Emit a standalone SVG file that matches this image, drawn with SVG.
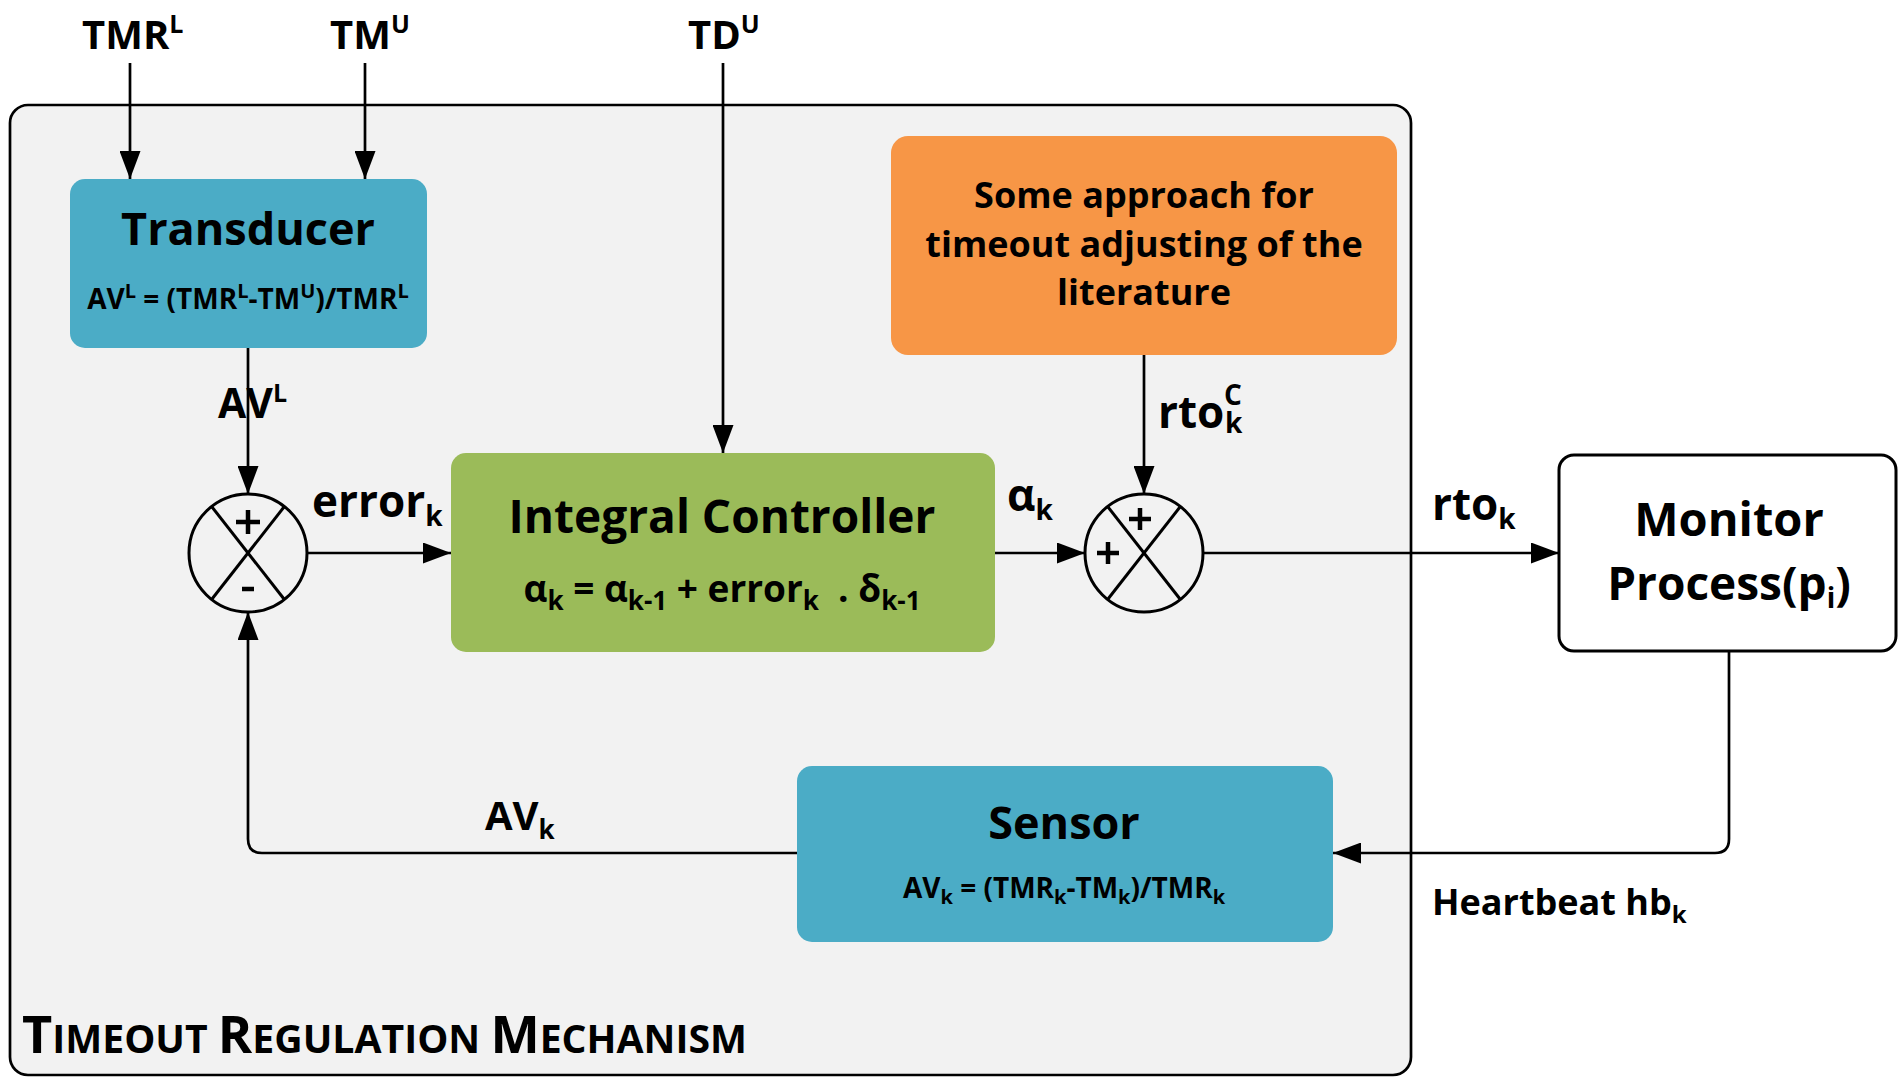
<svg xmlns="http://www.w3.org/2000/svg" width="1898" height="1078" viewBox="0 0 1898 1078">
  <style>
    text { font-family: "Open Sans", "Liberation Sans", sans-serif; font-weight: 700; fill: #000; }
    .title { text-anchor: middle; }
    .note { font-size: 36px; text-anchor: middle; }
    .f { text-anchor: middle; white-space: pre; }
    .wire { fill: none; stroke: #000; stroke-width: 2.7; }
    .ring { fill: none; stroke: #000; stroke-width: 3; }
    .sign { fill: none; stroke: #000; stroke-width: 4.5; }
  </style>
  <defs>
    <marker id="ah" markerWidth="28" markerHeight="21" refX="28" refY="10.5" orient="auto" markerUnits="userSpaceOnUse">
      <path d="M0,0 L28,10.5 L0,21 z" fill="#000"/>
    </marker>
  </defs>

  <rect width="1898" height="1078" fill="#fff"/>

  <!-- regulation mechanism frame -->
  <g id="frame">
    <rect x="10" y="105" width="1401" height="970" rx="18" fill="#f2f2f2" stroke="#000" stroke-width="2.7"/>
    <text x="22" y="1053" textLength="725" lengthAdjust="spacingAndGlyphs"><tspan font-size="52">T</tspan><tspan font-size="39">IMEOUT </tspan><tspan font-size="52">R</tspan><tspan font-size="39">EGULATION </tspan><tspan font-size="52">M</tspan><tspan font-size="39">ECHANISM</tspan></text>
  </g>

  <!-- external inputs -->
  <g id="in-tmrl"><text x="82" y="49" font-size="40">TMR<tspan font-size="25" dy="-16">L</tspan></text></g>
  <g id="in-tmu"><text x="330" y="49" font-size="40">TM<tspan font-size="25" dy="-16">U</tspan></text></g>
  <g id="in-tdu"><text x="688" y="49" font-size="40">TD<tspan font-size="25" dy="-16">U</tspan></text></g>

  <!-- transducer -->
  <g id="transducer">
    <rect x="70" y="179" width="357" height="169" rx="15" fill="#4bacc6"/>
    <text class="title" x="248" y="245" font-size="45">Transducer</text>
    <text class="f" x="248" y="309" font-size="28">AV<tspan font-size="20" dy="-11">L</tspan><tspan dy="11"> = (TMR</tspan><tspan font-size="20" dy="-11">L</tspan><tspan dy="11">-TM</tspan><tspan font-size="20" dy="-11">U</tspan><tspan dy="11">)/TMR</tspan><tspan font-size="20" dy="-11">L</tspan></text>
  </g>

  <!-- integral controller -->
  <g id="integral-controller">
    <rect x="451" y="453" width="544" height="199" rx="15" fill="#9bbb59"/>
    <text class="title" x="722" y="533" font-size="46">Integral Controller</text>
    <text class="f" x="722" y="602" font-size="37">α<tspan font-size="26" dy="8">k</tspan><tspan dy="-8"> = α</tspan><tspan font-size="26" dy="8">k-1</tspan><tspan dy="-8"> + error</tspan><tspan font-size="26" dy="8">k</tspan><tspan dy="-8">  . δ</tspan><tspan font-size="26" dy="8">k-1</tspan></text>
  </g>

  <!-- literature approach -->
  <g id="literature">
    <rect x="891" y="136" width="506" height="219" rx="17" fill="#f79646"/>
    <text class="note" x="1144" y="208">Some approach for</text>
    <text class="note" x="1144" y="257">timeout adjusting of the</text>
    <text class="note" x="1144" y="305">literature</text>
  </g>

  <!-- summing junctions -->
  <g id="sum-error">
    <circle cx="248" cy="553" r="59" fill="#f2f2f2" class="ring"/>
    <line class="ring" x1="212" y1="507" x2="284" y2="599"/>
    <line class="ring" x1="284" y1="507" x2="212" y2="599"/>
    <path class="sign" d="M236,522 H260 M248,510 V534"/>
    <path class="sign" d="M242,589 H254"/>
  </g>
  <g id="sum-rto">
    <circle cx="1144" cy="553" r="59" fill="#f2f2f2" class="ring"/>
    <line class="ring" x1="1108" y1="507" x2="1180" y2="599"/>
    <line class="ring" x1="1180" y1="507" x2="1108" y2="599"/>
    <path class="sign" d="M1129,519 H1151 M1140,508 V530"/>
    <path class="sign" d="M1097,553 H1119 M1108,542 V564"/>
  </g>

  <!-- monitor process -->
  <g id="monitor">
    <rect x="1559" y="455" width="337" height="196" rx="15" fill="#fff" stroke="#000" stroke-width="3"/>
    <text class="title" x="1729" y="536" font-size="47">Monitor</text>
    <text class="title" x="1729" y="600" font-size="46">Process(p<tspan font-size="28" dy="8">i</tspan><tspan dy="-8">)</tspan></text>
  </g>

  <!-- sensor -->
  <g id="sensor">
    <rect x="797" y="766" width="536" height="176" rx="15" fill="#4bacc6"/>
    <text class="title" x="1064" y="839" font-size="45">Sensor</text>
    <text class="f" x="1064" y="898" font-size="28">AV<tspan font-size="20" dy="6">k</tspan><tspan dy="-6"> = (TMR</tspan><tspan font-size="20" dy="6">k</tspan><tspan dy="-6">-TM</tspan><tspan font-size="20" dy="6">k</tspan><tspan dy="-6">)/TMR</tspan><tspan font-size="20" dy="6">k</tspan></text>
  </g>

  <!-- signal paths -->
  <g id="connectors">
    <line class="wire" x1="130" y1="63" x2="130" y2="179" marker-end="url(#ah)"/>
    <line class="wire" x1="365" y1="63" x2="365" y2="179" marker-end="url(#ah)"/>
    <line class="wire" x1="723" y1="63" x2="723" y2="453" marker-end="url(#ah)"/>
    <line class="wire" x1="248" y1="348" x2="248" y2="494" marker-end="url(#ah)"/>
    <line class="wire" x1="307" y1="553" x2="451" y2="553" marker-end="url(#ah)"/>
    <line class="wire" x1="995" y1="553" x2="1085" y2="553" marker-end="url(#ah)"/>
    <line class="wire" x1="1144" y1="355" x2="1144" y2="494" marker-end="url(#ah)"/>
    <line class="wire" x1="1203" y1="553" x2="1559" y2="553" marker-end="url(#ah)"/>
    <path class="wire" d="M1729,651 V839 Q1729,853 1715,853 H1333" marker-end="url(#ah)"/>
    <path class="wire" d="M797,853 H262 Q248,853 248,839 V612" marker-end="url(#ah)"/>

    <text x="218" y="418" font-size="41">AV<tspan font-size="25" dy="-16">L</tspan></text>
    <text x="312" y="517" font-size="44">error<tspan font-size="28" dy="9">k</tspan></text>
    <text x="1007" y="511" font-size="44">α<tspan font-size="28" dy="9">k</tspan></text>
    <text x="1158" y="428" font-size="44">rto<tspan x="1225" font-size="28" dy="5">k</tspan><tspan x="1224" font-size="28" dy="-28">C</tspan></text>
    <text x="1432" y="520" font-size="44">rto<tspan font-size="28" dy="9">k</tspan></text>
    <text x="485" y="830" font-size="40">AV<tspan font-size="26" dy="9">k</tspan></text>
    <text x="1432" y="915" font-size="36">Heartbeat hb<tspan font-size="24" dy="8">k</tspan></text>
  </g>
</svg>
